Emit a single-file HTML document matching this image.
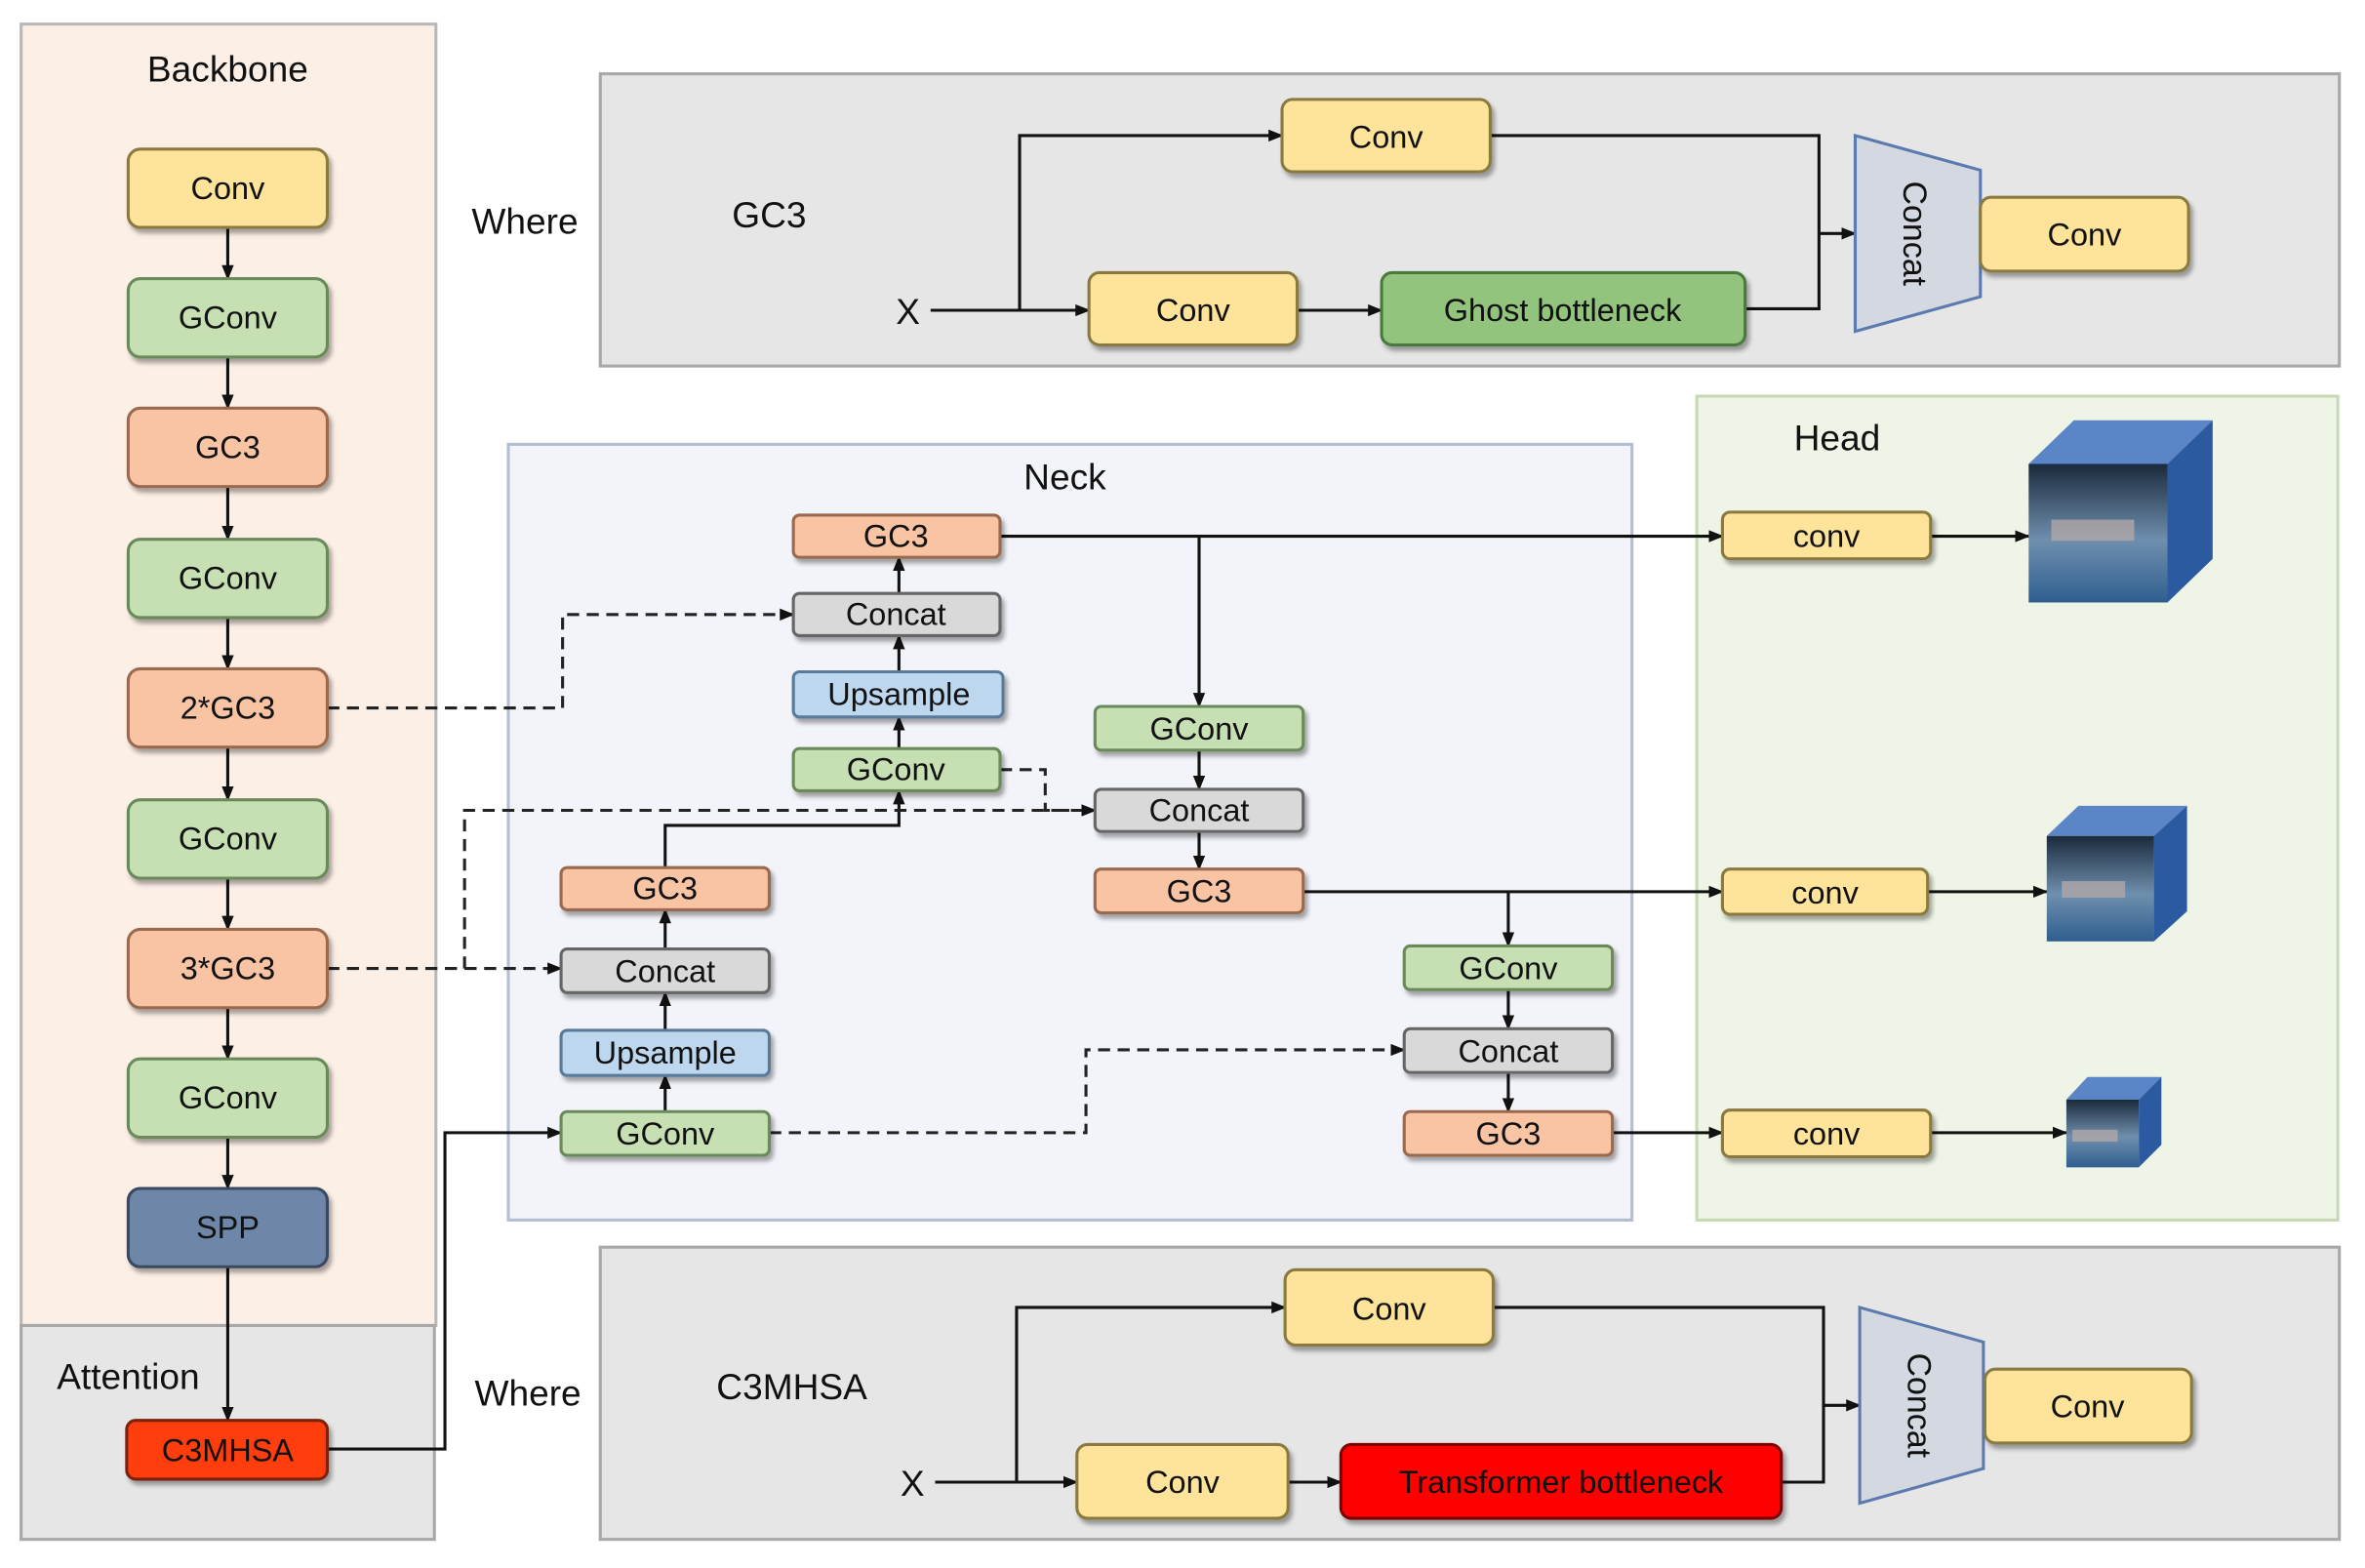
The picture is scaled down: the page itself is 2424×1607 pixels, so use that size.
<!DOCTYPE html>
<html><head><meta charset="utf-8"><style>
html,body{margin:0;padding:0;background:#fff;}
svg{display:block;}
text{font-family:"Liberation Sans","DejaVu Sans",sans-serif;fill:#111;}
</style></head><body>
<svg width="2424" height="1607" viewBox="0 0 1568 1041" preserveAspectRatio="none" xmlns="http://www.w3.org/2000/svg">
<defs>
<marker id="a" markerWidth="10" markerHeight="10" refX="9" refY="5" orient="auto" markerUnits="userSpaceOnUse"><path d="M0,1 L10,5 L0,9 z" fill="#111"/></marker>
<filter id="sh" x="-10%" y="-10%" width="130%" height="140%"><feDropShadow dx="2" dy="3" stdDeviation="1.5" flood-color="#000" flood-opacity="0.35"/></filter>
<linearGradient id="img" x1="0" y1="0" x2="0" y2="1"><stop offset="0" stop-color="#1b2a3c"/><stop offset="0.55" stop-color="#6f8fae"/><stop offset="1" stop-color="#2f5e8f"/></linearGradient>
</defs>
<rect width="1568" height="1041" fill="#fff"/>

<!-- panels -->
<rect x="14" y="16" width="275" height="864" fill="#fcefe6" stroke="#b8b8b8" stroke-width="2"/>
<rect x="14" y="880" width="274" height="142" fill="#e6e6e6" stroke="#a8a8a8" stroke-width="2"/>
<rect x="398" y="49" width="1153" height="194" fill="#e6e6e6" stroke="#a8a8a8" stroke-width="2"/>
<rect x="398" y="828" width="1153" height="194" fill="#e6e6e6" stroke="#a8a8a8" stroke-width="2"/>
<rect x="337" y="295" width="745" height="515" fill="#f2f4fa" stroke="#b4bed2" stroke-width="2"/>
<rect x="1125" y="263" width="425" height="547" fill="#eef4e6" stroke="#c8d8b4" stroke-width="2"/>

<g font-size="24" text-anchor="middle">
<text x="151" y="54">Backbone</text>
<text x="85" y="922">Attention</text>
<text x="348" y="155">Where</text>
<text x="510" y="151">GC3</text>
<text x="350" y="933">Where</text>
<text x="525" y="929">C3MHSA</text>
<text x="706" y="325">Neck</text>
<text x="1218" y="299">Head</text>
<text x="602" y="215">X</text>
<text x="605" y="993">X</text>
</g>

<!-- connectors -->
<g stroke="#111" stroke-width="2" fill="none">
<line x1="151" y1="151" x2="151" y2="185" marker-end="url(#a)"/>
<line x1="151" y1="237" x2="151" y2="271" marker-end="url(#a)"/>
<line x1="151" y1="323" x2="151" y2="358" marker-end="url(#a)"/>
<line x1="151" y1="410" x2="151" y2="444" marker-end="url(#a)"/>
<line x1="151" y1="496" x2="151" y2="531" marker-end="url(#a)"/>
<line x1="151" y1="583" x2="151" y2="617" marker-end="url(#a)"/>
<line x1="151" y1="669" x2="151" y2="703" marker-end="url(#a)"/>
<line x1="151" y1="755" x2="151" y2="789" marker-end="url(#a)"/>
<line x1="151" y1="841" x2="151" y2="943" marker-end="url(#a)"/>
<polyline points="217,962 295,962 295,752 372,752" marker-end="url(#a)"/>
<!-- GC3 top -->
<line x1="617" y1="206" x2="722" y2="206" marker-end="url(#a)"/>
<polyline points="676,206 676,90 850,90" marker-end="url(#a)"/>
<line x1="860" y1="206" x2="916" y2="206" marker-end="url(#a)"/>
<polyline points="988,90 1206,90 1206,205 1157,205"/>
<line x1="1206" y1="155" x2="1230" y2="155" marker-end="url(#a)"/>
<!-- C3MHSA bottom -->
<line x1="620" y1="984" x2="714" y2="984" marker-end="url(#a)"/>
<polyline points="674,984 674,868 852,868" marker-end="url(#a)"/>
<line x1="854" y1="984" x2="889" y2="984" marker-end="url(#a)"/>
<polyline points="990,868 1209,868 1209,984 1181,984"/>
<line x1="1209" y1="933" x2="1233" y2="933" marker-end="url(#a)"/>
<!-- neck -->
<line x1="663" y1="356" x2="1142" y2="356" marker-end="url(#a)"/>
<line x1="795" y1="356" x2="795" y2="469" marker-end="url(#a)"/>
<line x1="795" y1="498" x2="795" y2="524" marker-end="url(#a)"/>
<line x1="795" y1="552" x2="795" y2="577" marker-end="url(#a)"/>
<line x1="864" y1="592" x2="1142" y2="592" marker-end="url(#a)"/>
<line x1="1000" y1="592" x2="1000" y2="628" marker-end="url(#a)"/>
<line x1="1000" y1="657" x2="1000" y2="683" marker-end="url(#a)"/>
<line x1="1000" y1="712" x2="1000" y2="738" marker-end="url(#a)"/>
<line x1="1069" y1="752" x2="1142" y2="752" marker-end="url(#a)"/>
<line x1="1280" y1="356" x2="1345" y2="356" marker-end="url(#a)"/>
<line x1="1278" y1="592" x2="1357" y2="592" marker-end="url(#a)"/>
<line x1="1280" y1="752" x2="1370" y2="752" marker-end="url(#a)"/>
<line x1="441" y1="738" x2="441" y2="714" marker-end="url(#a)"/>
<line x1="441" y1="684" x2="441" y2="659" marker-end="url(#a)"/>
<line x1="441" y1="630" x2="441" y2="604" marker-end="url(#a)"/>
<polyline points="441,576 441,548 596,548 596,525" marker-end="url(#a)"/>
<line x1="596" y1="497" x2="596" y2="476" marker-end="url(#a)"/>
<line x1="596" y1="446" x2="596" y2="422" marker-end="url(#a)"/>
<line x1="596" y1="394" x2="596" y2="370" marker-end="url(#a)"/>
</g>
<g stroke="#222" stroke-width="2" fill="none" stroke-dasharray="8,5">
<polyline points="217,470 373,470 373,408 526,408" marker-end="url(#a)"/>
<line x1="217" y1="643" x2="372" y2="643" marker-end="url(#a)"/>
<polyline points="308,643 308,538 726,538" marker-end="url(#a)"/>
<polyline points="663,511 693,511 693,538 726,538" marker-end="url(#a)"/>
<polyline points="510,752 720,752 720,697 931,697" marker-end="url(#a)"/>
</g>

<!-- trapezoids -->
<polygon points="1230,90 1313,113 1313,197 1230,220" fill="#d4d8e0" stroke="#5a7ab0" stroke-width="2"/>
<text x="0" y="0" font-size="22" text-anchor="middle" transform="translate(1262,155) rotate(90)">Concat</text>
<polygon points="1233,868 1315,891 1315,975 1233,998" fill="#d4d8e0" stroke="#5a7ab0" stroke-width="2"/>
<text x="0" y="0" font-size="22" text-anchor="middle" transform="translate(1265,933) rotate(90)">Concat</text>

<!-- boxes -->
<g stroke-width="2" filter="url(#sh)">
<g stroke="#8a7a40"><rect x="85" y="99" width="132" height="52" rx="8" fill="#fde49a"/></g>
<g stroke="#6a8a5a" fill="#c6e0b4"><rect x="85" y="185" width="132" height="52" rx="8"/><rect x="85" y="358" width="132" height="52" rx="8"/><rect x="85" y="531" width="132" height="52" rx="8"/><rect x="85" y="703" width="132" height="52" rx="8"/></g>
<g stroke="#9a6a50" fill="#f8c4a4"><rect x="85" y="271" width="132" height="52" rx="8"/><rect x="85" y="444" width="132" height="52" rx="8"/><rect x="85" y="617" width="132" height="52" rx="8"/></g>
<rect x="85" y="789" width="132" height="52" rx="8" fill="#6e87a8" stroke="#3a4a60"/>
<rect x="84" y="943" width="133" height="39" rx="6" fill="#ff3c0a" stroke="#7a2010"/>

<g stroke="#8a7a40" fill="#fde49a">
<rect x="850" y="66" width="138" height="48" rx="7"/><rect x="722" y="181" width="138" height="48" rx="7"/><rect x="1313" y="131" width="138" height="49" rx="7"/>
<rect x="852" y="843" width="138" height="50" rx="7"/><rect x="714" y="959" width="140" height="49" rx="7"/><rect x="1316" y="909" width="137" height="49" rx="7"/>
<rect x="1142" y="340" width="138" height="31" rx="5"/><rect x="1142" y="577" width="136" height="30" rx="5"/><rect x="1142" y="737" width="138" height="31" rx="5"/>
</g>
<rect x="916" y="181" width="241" height="48" rx="7" fill="#93c47d" stroke="#4a7a3a"/>
<rect x="889" y="959" width="292" height="49" rx="7" fill="#ff0000" stroke="#800000"/>

<g stroke="#9a6a50" fill="#f8c4a4"><rect x="526" y="342" width="137" height="28" rx="4"/><rect x="372" y="576" width="138" height="28" rx="4"/><rect x="726" y="577" width="138" height="29" rx="4"/><rect x="931" y="738" width="138" height="29" rx="4"/></g>
<g stroke="#666" fill="#d9d9d9"><rect x="526" y="394" width="137" height="28" rx="4"/><rect x="372" y="630" width="138" height="29" rx="4"/><rect x="726" y="524" width="138" height="28" rx="4"/><rect x="931" y="683" width="138" height="29" rx="4"/></g>
<g stroke="#5a7a9a" fill="#bdd7ee"><rect x="526" y="446" width="139" height="30" rx="4"/><rect x="372" y="684" width="138" height="30" rx="4"/></g>
<g stroke="#6a8a5a" fill="#c6e0b4"><rect x="526" y="497" width="137" height="28" rx="4"/><rect x="372" y="738" width="138" height="29" rx="4"/><rect x="726" y="469" width="138" height="29" rx="4"/><rect x="931" y="628" width="138" height="29" rx="4"/></g>
</g>

<g font-size="21" text-anchor="middle">
<text x="151" y="132">Conv</text>
<text x="151" y="218">GConv</text>
<text x="151" y="304">GC3</text>
<text x="151" y="391">GConv</text>
<text x="151" y="477">2*GC3</text>
<text x="151" y="564">GConv</text>
<text x="151" y="650">3*GC3</text>
<text x="151" y="736">GConv</text>
<text x="151" y="822">SPP</text>
<text x="151" y="970">C3MHSA</text>
<text x="919" y="98">Conv</text>
<text x="791" y="213">Conv</text>
<text x="1036" y="213">Ghost bottleneck</text>
<text x="1382" y="163">Conv</text>
<text x="921" y="876">Conv</text>
<text x="784" y="991">Conv</text>
<text x="1035" y="991">Transformer bottleneck</text>
<text x="1384" y="941">Conv</text>
<text x="1211" y="363">conv</text>
<text x="1210" y="600">conv</text>
<text x="1211" y="760">conv</text>
<text x="594" y="363">GC3</text>
<text x="594" y="415">Concat</text>
<text x="596" y="468">Upsample</text>
<text x="594" y="518">GConv</text>
<text x="441" y="597">GC3</text>
<text x="441" y="652">Concat</text>
<text x="441" y="706">Upsample</text>
<text x="441" y="760">GConv</text>
<text x="795" y="491">GConv</text>
<text x="795" y="545">Concat</text>
<text x="795" y="599">GC3</text>
<text x="1000" y="650">GConv</text>
<text x="1000" y="705">Concat</text>
<text x="1000" y="760">GC3</text>
</g>

<!-- cubes -->
<g>
<polygon points="1345,308 1375,279 1467,279 1437,308" fill="#5a86c8"/>
<polygon points="1437,308 1467,279 1467,371 1437,400" fill="#2c5aa0"/>
<rect x="1345" y="308" width="92" height="92" fill="url(#img)"/>
<rect x="1360" y="345" width="55" height="14" fill="#b0a8a8" opacity="0.8"/>
<polygon points="1357,555 1378,535 1450,535 1428,555" fill="#5a86c8"/>
<polygon points="1428,555 1450,535 1450,605 1428,625" fill="#2c5aa0"/>
<rect x="1357" y="555" width="71" height="70" fill="url(#img)"/>
<rect x="1367" y="585" width="42" height="11" fill="#b0a8a8" opacity="0.8"/>
<polygon points="1370,730 1384,715 1433,715 1418,730" fill="#5a86c8"/>
<polygon points="1418,730 1433,715 1433,760 1418,775" fill="#2c5aa0"/>
<rect x="1370" y="730" width="48" height="45" fill="url(#img)"/>
<rect x="1374" y="750" width="30" height="8" fill="#b0a8a8" opacity="0.8"/>
</g>
</svg>
</body></html>
